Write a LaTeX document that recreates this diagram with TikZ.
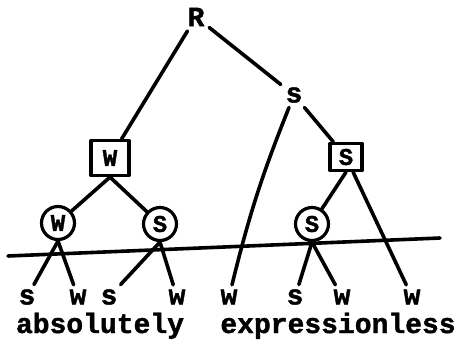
\documentclass[tikz,border=0pt]{standalone}
\usepackage{fontspec}
\setmainfont{Liberation Mono}[BoldFeatures={FakeBold=1.5}]
\begin{document}
\begin{tikzpicture}[x=1pt,y=-1pt, line width=3.6pt, line cap=round, line join=round,
  lbl/.style={font=\bfseries\fontsize{28}{28}\selectfont, inner sep=3pt},
  boxn/.style={draw, line width=3.2pt, font=\bfseries\fontsize{24}{24}\selectfont, minimum width=38pt, minimum height=35pt, inner sep=0pt},
  sboxn/.style={boxn, minimum width=32pt, minimum height=27pt},
  circn/.style={draw, circle, line width=3.2pt, minimum size=33pt, inner sep=0pt, font=\bfseries\fontsize{24}{24}\selectfont}]
\useasboundingbox (0,0) rectangle (455,341);
% internal nodes
\node[lbl] (R) at (196,17) {R};
\node[lbl] (s1) at (294,95) {s};
\node[boxn] (Wb) at (110,158) {W};
\node[sboxn] (Sb) at (346,157) {S};
\node[circn] (Wc) at (58,223) {W};
\node[circn] (Sc1) at (160,224) {S};
\node[circn] (Sc2) at (312,224) {S};
% leaves
\node[lbl] (l1) at (27,297) {s};
\node[lbl] (l2) at (78,297) {w};
\node[lbl] (l3) at (109,297) {s};
\node[lbl] (l4) at (177,297) {w};
\node[lbl] (l5) at (229,297) {w};
\node[lbl] (l6) at (295,297) {s};
\node[lbl] (l7) at (342,297) {w};
\node[lbl] (l8) at (412,297) {w};
% words
\node[lbl, anchor=base] (wd1) at (100,333) {absolutely};
\node[lbl, anchor=base] (wd2) at (338,333) {expressionless};
% horizontal line
\coordinate (h1) at (8,256);
\coordinate (h2) at (440,238);
\draw (h1) -- (h2);
% branches
\draw (R) -- (Wb);
\draw (R) -- (s1);
\draw (s1) to[bend right=4] (l5);
\draw (s1) -- (Sb);
\draw (Wb.south) -- (Wc);
\draw (Wb.south) -- (Sc1);
\draw (Wc.south) -- (l1);
\draw (Wc.south) -- (l2);
\draw (Sc1.south) -- (l3);
\draw (Sc1.south) -- (l4);
\draw (Sb.south) -- (Sc2);
\draw (Sb) -- (l8);
\draw (Sc2.south) -- (l6);
\draw (Sc2.south) -- (l7);
\end{tikzpicture}
\end{document}
